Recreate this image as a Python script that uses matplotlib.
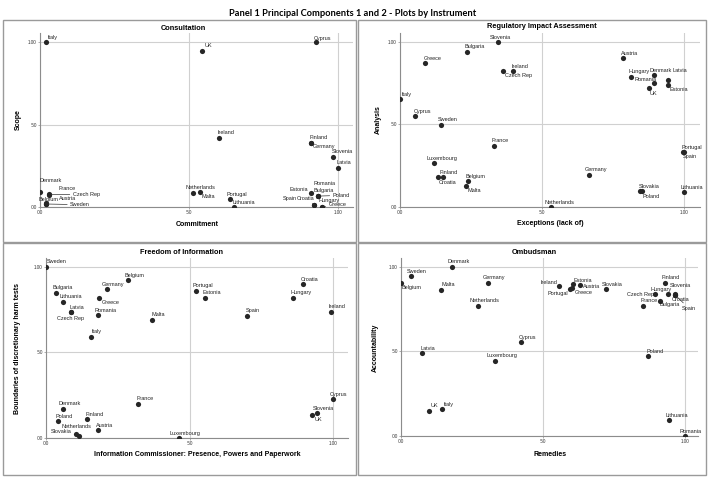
#!/usr/bin/python3
# -*- coding: utf-8 -*-

import matplotlib
matplotlib.use("Agg")
from matplotlib import pyplot as plt
from matplotlib.patches import Rectangle

plt.rcParams['font.family'] = ['Liberation Sans', 'DejaVu Sans']

W, H = 709, 479

###--- Consultation ---###
cons_names = ["Italy", "UK", "Cyprus", "Ireland", "Finland", "Germany", "Slovenia", "Latvia",
              "Denmark", "France", "Czech Rep", "Belgium", "Austria", "Sweden", "Netherlands",
              "Malta", "Portugal", "Lithuania", "Estonia", "Romania", "Bulgaria", "Poland",
              "Spain", "Croatia", "Hungary", "Greece"]
cons_x = [0.02, 0.545, 0.925, 0.60, 0.909, 0.909, 0.982, 1.0,
          0.0, 0.031, 0.031, 0.02, 0.02, 0.02, 0.512,
          0.537, 0.638, 0.651, 0.909, 0.934, 0.934, 0.934,
          0.92, 0.92, 0.945, 0.945]
cons_y = [1.0, 0.947, 1.0, 0.42, 0.39, 0.388, 0.307, 0.24,
          0.095, 0.079, 0.077, 0.024, 0.022, 0.02, 0.088,
          0.095, 0.048, 0.0, 0.085, 0.07, 0.07, 0.068,
          0.014, 0.016, 0.004, 0.002]

###--- Regulatory Impact Assessment ---###
ria_names = ["Slovenia", "Bulgaria", "Greece", "Ireland", "Czech Rep", "Italy", "Austria",
             "Hungary", "Denmark", "Romania", "Latvia", "Estonia", "UK", "Cyprus", "Sweden",
             "France", "Luxembourg", "Finland", "Croatia", "Belgium", "Malta", "Netherlands",
             "Germany", "Portugal", "Spain", "Slovakia", "Poland", "Lithuania"]
ria_x = [0.346, 0.237, 0.088, 0.399, 0.363, 0.0, 0.785,
         0.812, 0.893, 0.893, 0.941, 0.941, 0.876, 0.053, 0.144,
         0.331, 0.12, 0.15, 0.132, 0.240, 0.232, 0.53,
         0.666, 1.0, 0.996, 0.852, 0.844, 1.0]
ria_y = [1.0, 0.94, 0.87, 0.82, 0.82, 0.654, 0.90,
         0.789, 0.80, 0.749, 0.769, 0.739, 0.718, 0.552, 0.497,
         0.37, 0.268, 0.181, 0.181, 0.157, 0.129, 0.0,
         0.197, 0.334, 0.332, 0.098, 0.096, 0.092]

###--- Freedom of Information ---###
foi_names = ["Sweden", "Belgium", "Croatia", "Germany", "Bulgaria", "Portugal", "Greece",
             "Estonia", "Hungary", "Lithuania", "Latvia", "Czech Rep", "Romania", "Ireland",
             "Spain", "Malta", "Italy", "Cyprus", "France", "Denmark", "Slovenia", "UK",
             "Finland", "Poland", "Austria", "Slovakia", "Netherlands", "Luxembourg"]
foi_x = [0.0, 0.285, 0.896, 0.212, 0.036, 0.523, 0.187,
         0.553, 0.861, 0.061, 0.087, 0.087, 0.183, 0.991,
         0.699, 0.368, 0.156, 1.0, 0.322, 0.059, 0.944, 0.927,
         0.145, 0.042, 0.181, 0.105, 0.116, 0.463]
foi_y = [1.0, 0.922, 0.897, 0.868, 0.848, 0.858, 0.819,
         0.819, 0.819, 0.795, 0.735, 0.733, 0.716, 0.737,
         0.714, 0.69, 0.59, 0.224, 0.199, 0.17, 0.143, 0.133,
         0.109, 0.098, 0.045, 0.022, 0.01, 0.0]

###--- Ombudsman ---###
omb_names = ["Denmark", "Sweden", "Belgium", "Malta", "Germany", "Netherlands", "Ireland",
             "Estonia", "Austria", "Portugal", "Greece", "Slovakia", "Finland", "Hungary",
             "Slovenia", "Czech Rep", "Croatia", "Spain", "France", "Bulgaria", "Cyprus",
             "Latvia", "Poland", "Luxembourg", "UK", "Italy", "Lithuania", "Romania"]
omb_x = [0.182, 0.035, 0.0, 0.142, 0.308, 0.271, 0.557,
         0.605, 0.631, 0.596, 0.604, 0.724, 0.93, 0.941,
         0.965, 0.894, 0.965, 0.965, 0.851, 0.912, 0.422,
         0.074, 0.871, 0.332, 0.1, 0.147, 0.945, 1.0]
omb_y = [1.0, 0.945, 0.902, 0.864, 0.906, 0.77, 0.884,
         0.896, 0.891, 0.866, 0.876, 0.866, 0.902, 0.839,
         0.839, 0.837, 0.836, 0.834, 0.77, 0.797, 0.553,
         0.488, 0.474, 0.445, 0.15, 0.16, 0.096, 0.0]

###--- Label offsets (pixels, left edge / centre of text) ---###
cons_off = {"Italy": (1.7, 4.7), "UK": (1.7, 5), "Cyprus": (-2.3, 3.3), "Ireland": (-1, 5),
            "Finland": (-1.7, 5), "Germany": (1.7, -3.7), "Slovenia": (-1, 5.3), "Latvia": (-1.3, 5.3),
            "Denmark": (0, 10.7), "France": (9, 5.3), "Czech Rep": (23.3, 0), "Belgium": (-7.5, 4.3),
            "Austria": (13, 4.8), "Sweden": (24, -0.7), "Netherlands": (-7, 5.3), "Malta": (1.7, -5),
            "Portugal": (-3.3, 5), "Lithuania": (-1.7, 5.3), "Estonia": (-21, 3.3),
            "Romania": (-5, 12), "Bulgaria": (-5, 5.7), "Poland": (14, 0.7), "Spain": (-31, 6),
            "Croatia": (-17.5, 6.5), "Hungary": (-3.5, 6), "Greece": (6.7, 2.5)}
cons_lead = ["Czech Rep", "Sweden", "Poland", "Croatia", "Greece"]

ria_off = {"Slovenia": (-9, 4.3), "Bulgaria": (-3, 4.7), "Greece": (-1.7, 5), "Ireland": (-1.7, 5),
           "Czech Rep": (1.7, -4.3), "Italy": (1, 4.7), "Austria": (-2.7, 5), "Hungary": (-2.7, 5.3),
           "Denmark": (-4, 4.3), "Romania": (-19.7, 3.3), "Latvia": (5, 9), "Estonia": (1.7, -4.3),
           "UK": (1, -5), "Cyprus": (-1, 4), "Sweden": (-3.3, 5), "France": (-2.3, 5),
           "Luxembourg": (-7.3, 4.7), "Finland": (-2.7, 5), "Croatia": (1.3, -4.7),
           "Belgium": (-2.7, 4.7), "Malta": (1.7, -4.3), "Netherlands": (-6.7, 5),
           "Germany": (-4.3, 4.7), "Portugal": (-3.3, 4.7), "Spain": (0, -4.7),
           "Slovakia": (-3.3, 4.7), "Poland": (2.3, -4.7), "Lithuania": (-4.3, 4.3)}
ria_lead = []

foi_off = {"Sweden": (1, 5), "Belgium": (-3.3, 5), "Croatia": (-2.3, 4.3), "Germany": (-5, 5),
           "Bulgaria": (-3.7, 5), "Portugal": (-3.7, 5), "Greece": (2.3, -4.7), "Estonia": (-2.3, 5),
           "Hungary": (-3.3, 5), "Lithuania": (-4, 5), "Latvia": (-1.7, 4.7),
           "Czech Rep": (-13.3, -5.7), "Romania": (-4, 5), "Ireland": (-2.3, 5), "Spain": (-1, 5.3),
           "Malta": (0, 5), "Italy": (1, 5.3), "Cyprus": (-3.3, 5), "France": (-2.3, 5),
           "Denmark": (-4.3, 4.7), "Slovenia": (-4.7, 5), "UK": (2, -4.3), "Finland": (-2.3, 4.7),
           "Poland": (-2, 4.7), "Austria": (-2, 4.7), "Slovakia": (-25, 2.3),
           "Netherlands": (-18, 9.7), "Luxembourg": (-9, 4.3)}
foi_lead = []

omb_off = {"Denmark": (-4.7, 5.3), "Sweden": (-4, 5), "Belgium": (1, -4.3), "Malta": (0, 5.3),
           "Germany": (-5, 5), "Netherlands": (-8.3, 4.7), "Ireland": (-19, 4.3),
           "Estonia": (1.3, 3.7), "Austria": (3.3, -1), "Portugal": (-22.3, -4),
           "Greece": (2.7, -4.7), "Slovakia": (-4.3, 5), "Finland": (-3.3, 6),
           "Hungary": (-17.7, 5), "Slovenia": (-5, 8.3), "Czech Rep": (-28.3, 0),
           "Croatia": (-3.3, -5), "Spain": (6.7, -13.3), "France": (-2, 5), "Bulgaria": (0, -3.3),
           "Cyprus": (-2.3, 5), "Latvia": (-1.7, 5), "Poland": (-1.7, 4.7),
           "Luxembourg": (-9, 5.3), "UK": (2, 5), "Italy": (1, 4.7), "Lithuania": (-4.3, 4.7),
           "Romania": (-5.7, 4.7)}
omb_lead = ["Spain"]

fig = plt.figure(figsize=(W / 100, H / 100), dpi=100)

def fx(x):
    return x / W

def fy(y):
    return 1 - y / H

###--- Panel frames ---###
for (x0, y0, x1, y1) in [(3, 20, 356, 242), (358, 20, 706, 242), (3, 243, 356, 475), (358, 243, 706, 475)]:
    fig.add_artist(Rectangle((fx(x0), fy(y1)), fx(x1 - x0), (y1 - y0) / H, transform=fig.transFigure,
                             fill=False, edgecolor='#9a9a9a', lw=1))

fig.text(fx(353), fy(13), "Panel 1 Principal Components 1 and 2 - Plots by Instrument",
         ha='center', va='center', fontsize=6.7, fontweight='bold', family=['Lato', 'DejaVu Sans'])

def panel(box, xmax, ymax, names, xs, ys, offs, leads, title, tpos, xlabel, xpos, ylabel, ypos):
    left, top, right, bottom = box
    ax = fig.add_axes([fx(left), fy(bottom), (right - left) / W, (bottom - top) / H])
    ax.set_xlim(0, xmax)
    ax.set_ylim(0, ymax)
    ax.set_xticks([0, 0.5, 1.0])
    ax.set_yticks([0, 0.5, 1.0])
    ax.set_xticklabels([".00", ".50", "1.00"])
    ax.set_yticklabels([".00", ".50", "1.00"])
    ax.tick_params(length=1.5, width=0.5, color='#8c8c8c', labelsize=3.3, pad=0.8, labelcolor='#333')
    ax.grid(True, color='#d0d0d0', lw=0.8)
    ax.set_axisbelow(True)
    for s in ['top', 'right']:
        ax.spines[s].set_visible(False)
    for s in ['left', 'bottom']:
        ax.spines[s].set_color('#8c8c8c')
        ax.spines[s].set_linewidth(0.8)
    ax.scatter(xs, ys, s=14, color='#262626', linewidths=0, zorder=3)
    for n, x, y in zip(names, xs, ys):
        dx, dy = offs.get(n, (-2.5, 5))
        if n in leads:
            ax.annotate(n, (x, y), xytext=(dx, dy), textcoords='offset pixels', fontsize=4,
                        ha='left', va='center', color='#222', annotation_clip=False,
                        arrowprops=dict(arrowstyle='-', lw=0.5, color='#333', shrinkA=0, shrinkB=1.5))
        else:
            ax.annotate(n, (x, y), xytext=(dx, dy), textcoords='offset pixels', fontsize=4,
                        ha='left', va='center', color='#222', annotation_clip=False)
    fig.text(fx(tpos[0]), fy(tpos[1]), title, ha='center', va='center', fontsize=5.3, fontweight='bold')
    fig.text(fx(xpos[0]), fy(xpos[1]), xlabel, ha='center', va='center', fontsize=5, fontweight='bold')
    fig.text(fx(ypos[0]), fy(ypos[1]), ylabel, ha='center', va='center', fontsize=5, fontweight='bold',
             rotation=90)
    return ax

panel((40, 33, 353, 207.3), 1.050, 1.056, cons_names, cons_x, cons_y, cons_off, cons_lead,
      "Consultation", (183, 28), "Commitment", (197, 225), "Scope", (18, 120))
panel((400, 33, 700, 207.3), 1.055, 1.052, ria_names, ria_x, ria_y, ria_off, ria_lead,
      "Regulatory Impact Assessment", (542, 27), "Exceptions (lack of)", (550, 223), "Analysis", (378, 120))
panel((45.7, 258.3, 348.3, 437.7), 1.052, 1.049, foi_names, foi_x, foi_y, foi_off, foi_lead,
      "Freedom of Information", (181, 252), "Information Commissioner: Presence, Powers and Paperwork",
      (197, 454), "Boundaries of discretionary harm tests", (18, 348))
panel((400.7, 258.3, 698.3, 436), 1.047, 1.05, omb_names, omb_x, omb_y, omb_off, omb_lead,
      "Ombudsman", (534, 253), "Remedies", (550, 454), "Accountability", (375, 348))

plt.savefig("out.png", dpi=100)
plt.close()
